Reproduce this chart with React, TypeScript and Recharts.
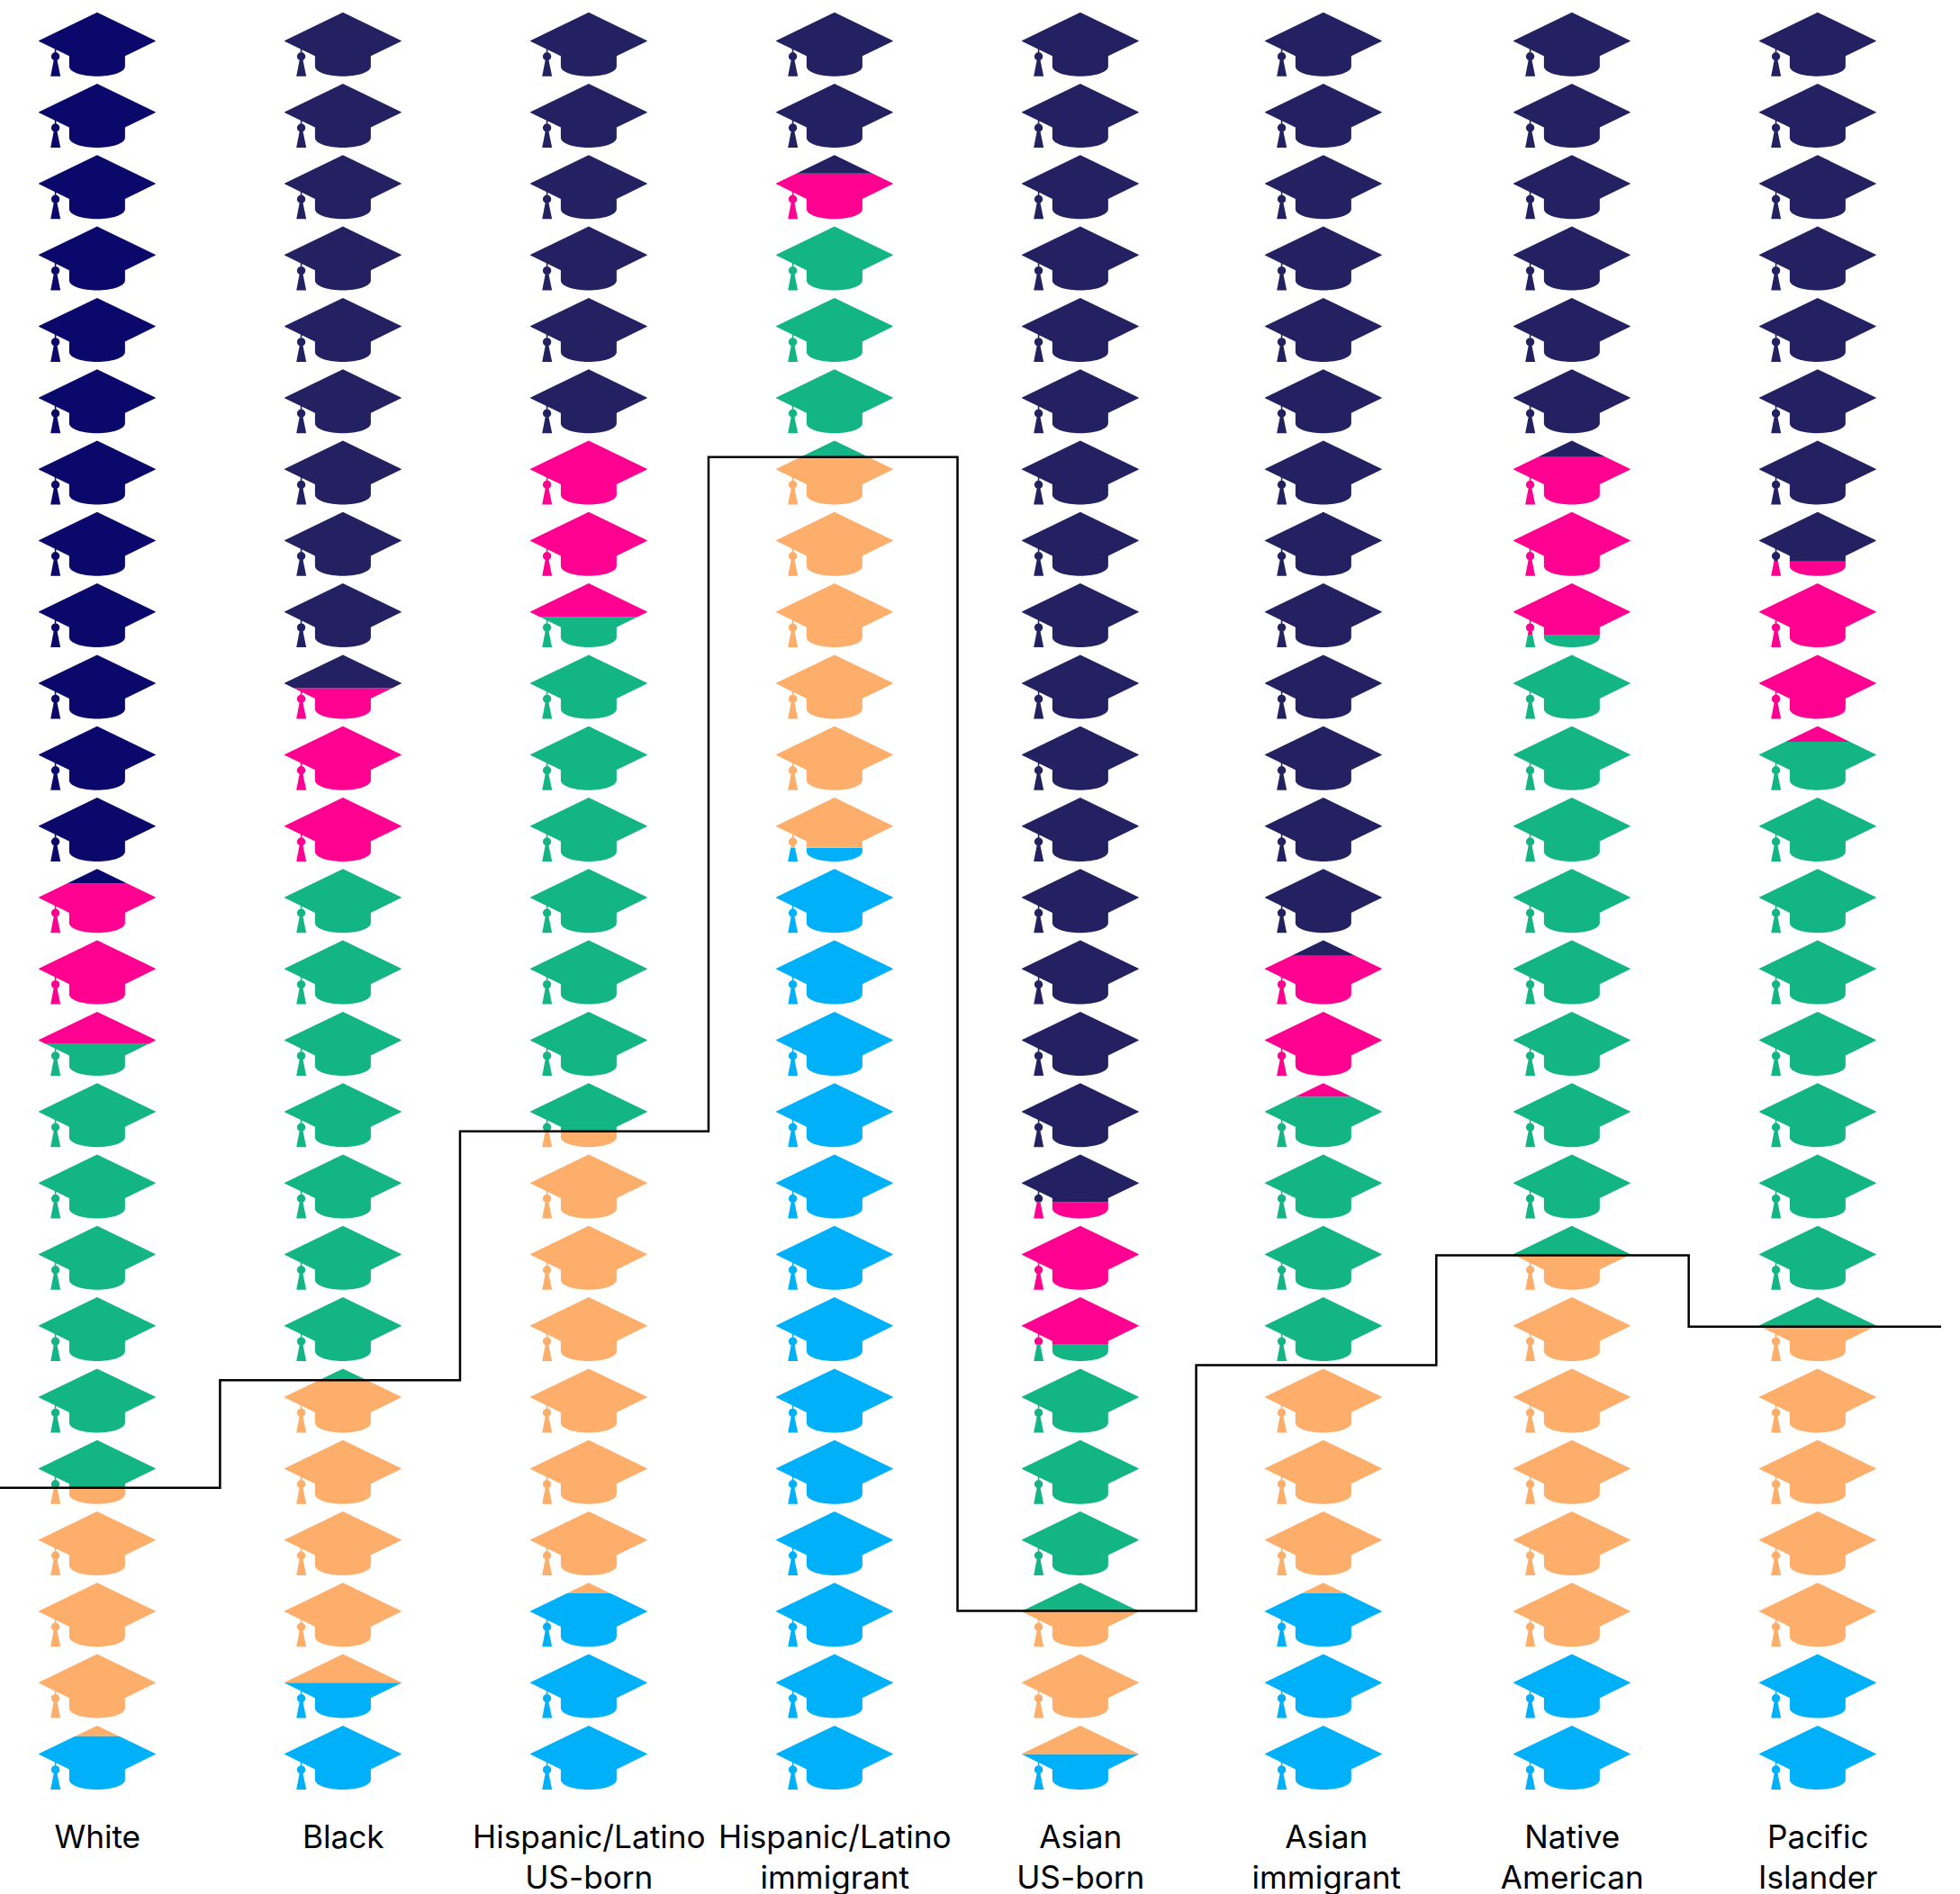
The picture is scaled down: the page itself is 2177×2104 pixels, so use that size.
import React from "react";
import { ComposedChart, Bar, Line, XAxis, YAxis } from "recharts";

const categories = [
    "White",
    "Black",
    "Hispanic/Latino US-born",
    "Hispanic/Latino immigrant",
    "Asian US-born",
    "Asian immigrant",
    "Native American",
    "Pacific Islander",
];
const labelLines = [
    ["White"],
    ["Black"],
    ["Hispanic/Latino", "US-born"],
    ["Hispanic/Latino", "immigrant"],
    ["Asian", "US-born"],
    ["Asian", "immigrant"],
    ["Native", "American"],
    ["Pacific", "Islander"],
];

// shares in percent, bottom of the stack first
const blue = [3.2, 6.2, 11.2, 53.0, 2.2, 11.2, 7.95, 7.95];
const orange = [13.95, 16.95, 25.9, 21.9, 8.05, 12.8, 22.2, 18.2];
const green = [24.85, 28.85, 28.85, 13.1, 14.9, 15.05, 34.8, 32.8];
const pink = [9.0, 9.95, 10.1, 2.8, 8.0, 7.9, 9.95, 10.1];
const navy = [49.0, 38.05, 23.95, 9.2, 66.85, 53.05, 25.1, 31.0];

// step line: left edge of each run, in column units, and the level it runs at
const stepEdges = [-0.397, 0.4985, 1.475, 2.486, 3.499, 4.47, 5.447, 6.474, 7.501];
const stepLevels = [17.12, 23.15, 37.1, 74.9, 10.22, 24.0, 30.15, 26.15, 26.15];

const rows = categories.map((name, i) => ({
    name,
    slot: i,
    blue: blue[i],
    orange: orange[i],
    green: green[i],
    pink: pink[i],
    navy: navy[i],
}));
const stepRows = stepEdges.map((slot, i) => ({ slot, level: stepLevels[i] }));

const PLOT_TOP = 9.5;
const HAT_PITCH = 79.3;
const HAT_COUNT = 25;
const HAT_TIP = 4.2;
const HAT_HALF_WIDTH = 70;

const HAT_PATH =
    "M0 0L64.5 31.2Q65.6 31.7 64.5 32.2L31 48.6V60C31 66.5 16 71 0 71C-16 71 -31 66.5 -31 60V48.6L-64.5 32.2Q-65.6 31.7 -64.5 31.2Z" +
    "M-47.1 40.5H-45.5V46H-47.1Z" +
    "M-51 49a4.7 4.7 0 1 1 9.4 0a4.7 4.7 0 1 1 -9.4 0Z" +
    "M-48 52H-44.6L-40.8 70.6V71H-51.6V70.6Z";

const HatBand = ({ x, y, width, height, index, band, colour }: any) => {
    const id = `band-${band}-${index}`;
    // the Asian immigrant hats sit slightly left of their label
    const cx = x + width / 2 + (index === 5 ? -3 : 0);
    const hats = [];
    for (let i = 0; i < HAT_COUNT; i++) {
        const top = PLOT_TOP + i * HAT_PITCH;
        if (top + HAT_PITCH < y || top > y + height) continue;
        hats.push(
            <path
                key={i}
                d={HAT_PATH}
                transform={`translate(${cx} ${top + HAT_TIP})`}
            />
        );
    }
    return (
        <g>
            <clipPath id={id}>
                <rect
                    x={cx - HAT_HALF_WIDTH}
                    y={y}
                    width={HAT_HALF_WIDTH * 2}
                    height={height}
                />
            </clipPath>
            <g clipPath={`url(#${id})`} fill={colour}>
                {hats}
            </g>
        </g>
    );
};

const LabelTick = ({ x, payload }: any) => {
    const lines = labelLines[payload.value] || [];
    return (
        <text
            x={x}
            y={2053}
            textAnchor="middle"
            fontFamily="Inter"
            fontSize={35.2}
            fill="#000"
        >
            {lines.map((line, i) => (
                <tspan key={i} x={x} y={2053 + i * 44.5}>
                    {line}
                </tspan>
            ))}
        </text>
    );
};

const App = () => {
    const bands = [
        { key: "blue", colour: "#00B0F9" },
        { key: "orange", colour: "#FCAE6A" },
        { key: "green", colour: "#14B584" },
        { key: "pink", colour: "#FF0090" },
        { key: "navy", colour: "#232161" },
    ];

    return (
        <div
            style={{
                position: "absolute",
                left: 0,
                top: 0,
                background: "#fff",
            }}
        >
            <ComposedChart
                width={2177}
                height={2104}
                data={rows}
                margin={{ top: PLOT_TOP, right: 0, bottom: 0, left: 0 }}
            >
                <XAxis
                    type="number"
                    dataKey="slot"
                    domain={[-0.3967, 7.5777]}
                    ticks={[0, 1, 2, 3, 4, 5, 6, 7]}
                    interval={0}
                    allowDataOverflow
                    axisLine={false}
                    tickLine={false}
                    height={112}
                    tick={<LabelTick />}
                />
                <YAxis type="number" domain={[0, 100]} hide />
                {bands.map((b) => (
                    <Bar
                        key={b.key}
                        dataKey={b.key}
                        stackId="a"
                        barSize={140}
                        isAnimationActive={false}
                        shape={(props: any) => (
                            <HatBand
                                {...props}
                                band={b.key}
                                colour={
                                    b.key === "navy" && props.index === 0
                                        ? "#0A086A"
                                        : b.colour
                                }
                            />
                        )}
                    />
                ))}
                <Line
                    data={stepRows}
                    dataKey="level"
                    type="stepAfter"
                    stroke="#000"
                    strokeWidth={2.5}
                    dot={false}
                    isAnimationActive={false}
                />
            </ComposedChart>
        </div>
    );
};

export default App;
